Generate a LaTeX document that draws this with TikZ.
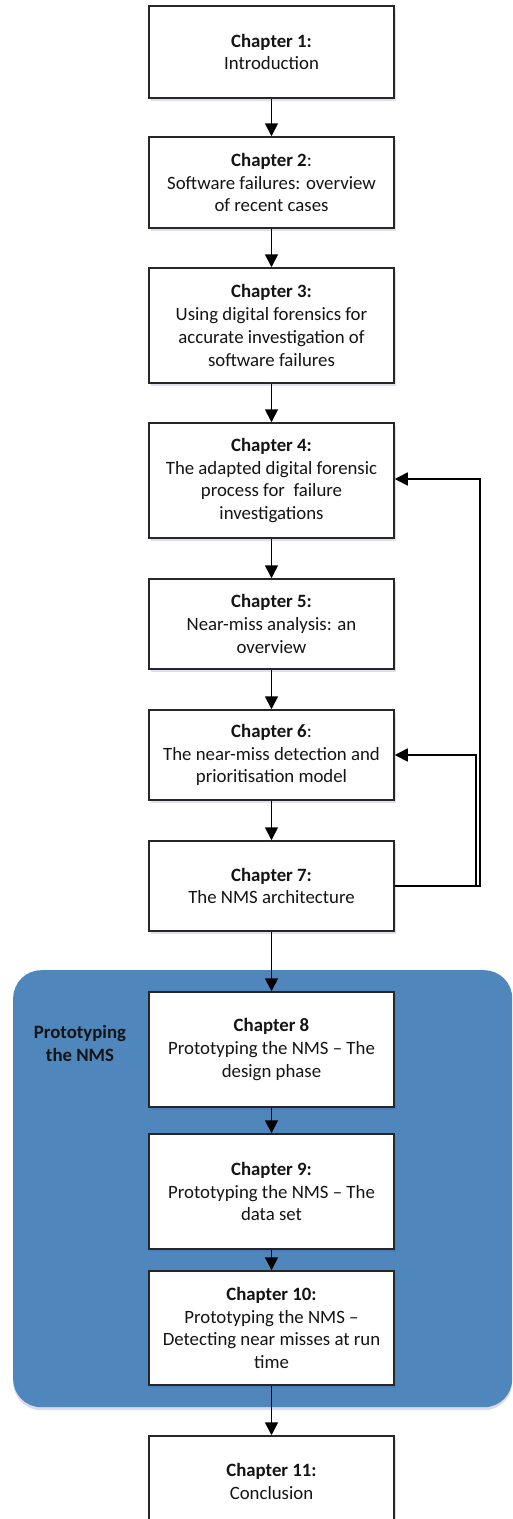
\documentclass[tikz,border=0pt]{standalone}
\usepackage{fontspec}
\setmainfont{Carlito}
\usetikzlibrary{arrows.meta,shadows}

\definecolor{groupblue}{RGB}{79,135,189}
\definecolor{inktext}{RGB}{20,20,20}

\begin{document}
\begin{tikzpicture}[x=1pt,y=-1pt,
  chapbox/.style={draw=black!85, line width=1.5pt, fill=white,
    minimum width=245pt, inner sep=0pt, align=center,
    font=\fontsize{18.8}{22.8}\selectfont, text=inktext,
    drop shadow={shadow xshift=1.5pt, shadow yshift=-2.5pt, fill=blue!40!gray, opacity=0.18}},
  flow/.style={line width=1.7pt, draw=black, -{Triangle[length=13pt,width=13pt]}},
  loopback/.style={line width=1.7pt, draw=black, -{Triangle[length=13pt,width=13pt]}},
]
\useasboundingbox (0,0) rectangle (512,1519);
\clip (0,0) rectangle (512,1519);

% prototyping group
\node[draw=none, fill=groupblue, rounded corners=28pt, minimum width=499pt, minimum height=437pt,
  inner sep=0pt, anchor=north west,
  drop shadow={shadow xshift=0pt, shadow yshift=-3pt, fill=blue!40!gray, opacity=0.2}] (grp) at (13,970) {};
\node[font=\fontsize{18.8}{22.8}\selectfont\bfseries, text=inktext, align=center] (grplabel) at (80,1043.5)
  {Prototyping\\the NMS};

% chapter boxes
\node[chapbox, minimum height=92pt]  (b1)  at (271.5,52)     {\textbf{Chapter 1:}\\Introduction};
\node[chapbox, minimum height=91pt]  (b2)  at (271.5,182.5)  {\textbf{Chapter 2}:\\Software failures: overview\\of recent cases};
\node[chapbox, minimum height=115pt] (b3)  at (271.5,325.5)  {\textbf{Chapter 3:}\\Using digital forensics for\\accurate investigation of\\software failures};
\node[chapbox, minimum height=115pt] (b4)  at (271.5,480.5)  {\textbf{Chapter 4:}\\The adapted digital forensic\\process for\ \ failure\\investigations};
\node[chapbox, minimum height=90pt]  (b5)  at (271.5,624)    {\textbf{Chapter 5:}\\Near-miss analysis: an\\overview};
\node[chapbox, minimum height=90pt]  (b6)  at (271.5,755)    {\textbf{Chapter 6}:\\The near-miss detection and\\prioritisation model};
\node[chapbox, minimum height=90pt]  (b7)  at (271.5,886)    {\textbf{Chapter 7:}\\The NMS architecture};
\node[chapbox, minimum height=115pt] (b8)  at (271.5,1049.5) {\textbf{Chapter 8}\\Prototyping the NMS -- The\\design phase};
\node[chapbox, minimum height=115pt] (b9)  at (271.5,1191.5) {\textbf{Chapter 9:}\\Prototyping the NMS -- The\\data set};
\node[chapbox, minimum height=114pt] (b10) at (271.5,1328)   {\textbf{Chapter 10:}\\Prototyping the NMS --\\Detecting near misses at run\\time};
\node[chapbox, minimum height=91pt]  (b11) at (271.5,1481.5) {\textbf{Chapter 11:}\\Conclusion};

% main flow
\draw[flow] (b1) -- (b2);
\draw[flow] (b2) -- (b3);
\draw[flow] (b3) -- (b4);
\draw[flow] (b4) -- (b5);
\draw[flow] (b5) -- (b6);
\draw[flow] (b6) -- (b7);
\draw[flow] (b7) -- (b8);
\draw[flow] (b8) -- (b9);
\draw[flow] (b9) -- (b10);
\draw[flow] (b10) -- (b11);

% feedback from chapter 7
\draw[loopback] (b7.east) -- ++(85,0) |- ([yshift=1.5pt]b4.east);
\draw[loopback] (b7.east) -- ++(81,0) |- (b6.east);
\end{tikzpicture}
\end{document}
